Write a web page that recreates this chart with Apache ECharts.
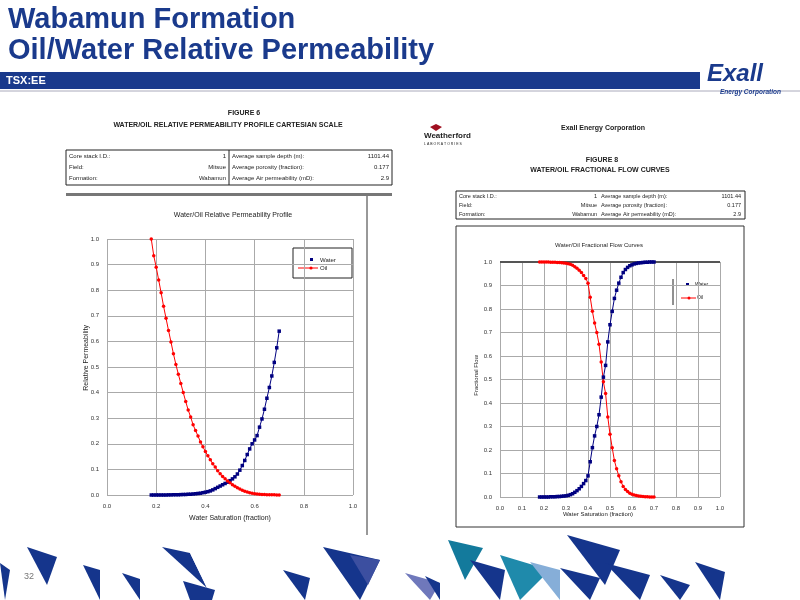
<!DOCTYPE html>
<html><head><meta charset="utf-8">
<script src="https://cdn.jsdelivr.net/npm/echarts@6/dist/echarts.min.js"></script>
<style>html,body{margin:0;padding:0;background:#fff}#c{width:800px;height:600px}</style>
</head><body><div id="c"></div>
<script>
const sw=[0.18,0.19,0.20,0.21,0.22,0.23,0.24,0.25,0.26,0.27,0.28,0.29,0.30,0.31,0.32,0.33,0.34,0.35,0.36,0.37,0.38,0.39,0.40,0.41,0.42,0.43,0.44,0.45,0.46,0.47,0.48,0.49,0.50,0.51,0.52,0.53,0.54,0.55,0.56,0.57,0.58,0.59,0.60,0.61,0.62,0.63,0.64,0.65,0.66,0.67,0.68,0.69,0.70];
const krw=[0,0,0,0,0,0,0,0.0005,0.0005,0.001,0.001,0.001,0.0015,0.002,0.002,0.003,0.003,0.004,0.005,0.006,0.007,0.009,0.011,0.013,0.016,0.020,0.025,0.030,0.035,0.040,0.045,0.050,0.056,0.063,0.071,0.082,0.097,0.115,0.135,0.158,0.180,0.200,0.215,0.232,0.265,0.297,0.335,0.378,0.420,0.465,0.518,0.575,0.640];
const kro=[1.000,0.935,0.890,0.840,0.790,0.737,0.690,0.643,0.598,0.552,0.510,0.472,0.436,0.400,0.365,0.332,0.305,0.274,0.252,0.230,0.207,0.188,0.170,0.153,0.138,0.122,0.109,0.095,0.083,0.072,0.063,0.055,0.048,0.040,0.034,0.028,0.023,0.019,0.015,0.012,0.009,0.007,0.005,0.004,0.003,0.002,0.002,0.001,0.001,0.001,0.0005,0.0003,0.0002];
const fw=[0,0,0,0,0,0.001,0.001,0.001,0.002,0.002,0.003,0.004,0.005,0.007,0.010,0.014,0.020,0.027,0.035,0.045,0.057,0.070,0.090,0.150,0.210,0.260,0.300,0.350,0.425,0.510,0.560,0.660,0.733,0.790,0.845,0.880,0.910,0.935,0.955,0.968,0.977,0.984,0.988,0.992,0.994,0.996,0.997,0.998,0.999,0.999,1,1,1];
const fo=[1,1,1,1,1,0.999,0.999,0.999,0.998,0.998,0.997,0.996,0.995,0.993,0.990,0.986,0.980,0.973,0.965,0.955,0.943,0.930,0.910,0.850,0.790,0.740,0.700,0.650,0.575,0.490,0.440,0.340,0.267,0.210,0.155,0.120,0.090,0.065,0.045,0.032,0.023,0.016,0.012,0.008,0.006,0.004,0.003,0.002,0.001,0.001,0,0,0];
const seriesNames=['Water','Oil'];
const pair=(a)=>sw.map((x,i)=>[x,a[i]]);
const ch=echarts.init(document.getElementById('c'));
const lab={fontSize:6,color:'#333',fontFamily:'Liberation Sans'};
const gl={show:true,lineStyle:{color:'#aaa',width:1}};
function txt(x,y,t,o){return {type:'text',style:Object.assign({x:x,y:y,text:t,fontSize:6,fill:'#222',fontFamily:'Liberation Sans',verticalAlign:'top'},o||{})};}
function tri(pts,c){return {type:'polygon',shape:{points:pts},style:{fill:c}};}
const B='#15358c';
const g=[
 txt(8,4,'Wabamun Formation\nOil/Water Relative Permeability',{fontSize:29,fontWeight:'bold',fill:'#1a3a8c',lineHeight:31}),
 {type:'rect',shape:{x:0,y:72,width:700,height:17},style:{fill:'#1a3a8c'}},
 {type:'line',shape:{x1:0,y1:91,x2:800,y2:91},style:{stroke:'#aab',lineWidth:1}},
 txt(6,75,'TSX:EE',{fontSize:11,fontWeight:'bold',fill:'#fff'}),
 txt(707,62,'Exall',{fontSize:24,fontWeight:'bold',fontStyle:'italic',fill:'#1a3a8c'}),
 txt(720,89,'Energy Corporation',{fontSize:6.5,fontWeight:'bold',fontStyle:'italic',fill:'#1a3a8c'}),
 txt(244,110,'FIGURE 6',{fontSize:7,fontWeight:'bold',align:'center'}),
 txt(228,122,'WATER/OIL RELATIVE PERMEABILITY PROFILE CARTESIAN SCALE',{fontSize:7,fontWeight:'bold',align:'center'}),
 {type:'rect',shape:{x:66,y:150,width:326,height:35},style:{fill:'none',stroke:'#222',lineWidth:1}},
 {type:'line',shape:{x1:229,y1:150,x2:229,y2:185},style:{stroke:'#222'}},
 txt(69,153,'Core stack I.D.:'),txt(69,164,'Field:'),txt(69,175,'Formation:'),
 txt(226,153,'1',{align:'right'}),txt(226,164,'Mitsue',{align:'right'}),txt(226,175,'Wabamun',{align:'right'}),
 txt(232,153,'Average sample depth (m):'),txt(232,164,'Average porosity (fraction):'),txt(232,175,'Average Air permeability (mD):'),
 txt(389,153,'1101.44',{align:'right'}),txt(389,164,'0.177',{align:'right'}),txt(389,175,'2.9',{align:'right'}),
 {type:'rect',shape:{x:66,y:193,width:326,height:3},style:{fill:'#777'}},
 {type:'line',shape:{x1:367,y1:196,x2:367,y2:535},style:{stroke:'#333'}},
 txt(233,212,'Water/Oil Relative Permeability Profile',{fontSize:7,align:'center'}),
 txt(230,515,'Water Saturation (fraction)',{fontSize:7,align:'center'}),
 {type:'text',left:83,top:325,rotation:Math.PI/2,style:{text:'Relative Permeability',fontSize:7,fill:'#222'}},
 {type:'rect',shape:{x:293,y:248,width:59,height:30},style:{fill:'#fff',stroke:'#222',lineWidth:1}},
 {type:'rect',shape:{x:310,y:258,width:3,height:3},style:{fill:'#000080'}},txt(320,257,'Water'),
 {type:'line',shape:{x1:298,y1:268,x2:318,y2:268},style:{stroke:'#f00'}},{type:'circle',shape:{cx:311,cy:268,r:1.6},style:{fill:'#f00'}},txt(320,265,'Oil'),
 {type:'polygon',shape:{points:[[430,127],[436,124],[442,127],[436,131]]},style:{fill:'#a01020'}},
 txt(424,132,'Weatherford',{fontSize:8,fontWeight:'bold',fill:'#222'}),txt(424,142,'L A B O R A T O R I E S',{fontSize:3.5}),
 txt(603,125,'Exall Energy Corporation',{fontSize:7,fontWeight:'bold',align:'center'}),
 txt(602,157,'FIGURE 8',{fontSize:7,fontWeight:'bold',align:'center'}),
 txt(600,167,'WATER/OIL FRACTIONAL FLOW CURVES',{fontSize:7,fontWeight:'bold',align:'center'}),
 {type:'rect',shape:{x:456,y:191,width:289,height:28},style:{fill:'none',stroke:'#222',lineWidth:1}},
 txt(459,193,'Core stack I.D.:',{fontSize:5.5}),txt(459,202,'Field:',{fontSize:5.5}),txt(459,211,'Formation:',{fontSize:5.5}),
 txt(597,193,'1',{align:'right',fontSize:5.5}),txt(597,202,'Mitsue',{align:'right',fontSize:5.5}),txt(597,211,'Wabamun',{align:'right',fontSize:5.5}),
 txt(601,193,'Average sample depth (m):',{fontSize:5.5}),txt(601,202,'Average porosity (fraction):',{fontSize:5.5}),txt(601,211,'Average Air permeability (mD):',{fontSize:5.5}),
 txt(741,193,'1101.44',{align:'right',fontSize:5.5}),txt(741,202,'0.177',{align:'right',fontSize:5.5}),txt(741,211,'2.9',{align:'right',fontSize:5.5}),
 {type:'rect',shape:{x:456,y:226,width:288,height:301},style:{fill:'none',stroke:'#333',lineWidth:1}},
 txt(599,242,'Water/Oil Fractional Flow Curves',{fontSize:6,align:'center'}),
 txt(598,511,'Water Saturation (fraction)',{fontSize:6,align:'center'}),
 {type:'text',left:473,top:355,rotation:Math.PI/2,style:{text:'Fractional Flow',fontSize:6,fill:'#222'}},
 {type:'rect',shape:{x:673,y:275,width:66,height:30},style:{fill:'#fff'}},
 {type:'line',shape:{x1:673,y1:279,x2:673,y2:305},style:{stroke:'#222'}},
 {type:'rect',shape:{x:686,y:283,width:3,height:3},style:{fill:'#000080'}},txt(695,282,'Water',{fontSize:5}),
 {type:'line',shape:{x1:681,y1:298,x2:696,y2:298},style:{stroke:'#f00'}},{type:'circle',shape:{cx:689,cy:298,r:1.5},style:{fill:'#f00'}},txt(697,295,'Oil',{fontSize:5}),
 txt(24,572,'32',{fontSize:9,fill:'#777'}),
 tri([[27,547],[57,557],[47,585]],B),tri([[0,563],[10,570],[5,600]],B),
 tri([[83,565],[100,570],[100,600]],B),tri([[122,573],[140,579],[140,600]],B),
 tri([[162,547],[190,553],[207,588]],B),tri([[190,553],[210,558],[207,588]],'#fff'),
 tri([[183,581],[215,590],[212,600],[190,600]],B),
 tri([[283,570],[310,578],[305,600]],B),
 tri([[323,547],[380,560],[360,600]],B),tri([[350,555],[380,560],[368,585]],'#3c4fa0'),
 tri([[405,573],[440,583],[430,600]],'#6f78bb'),tri([[425,576],[440,583],[440,600]],B),
 tri([[448,540],[483,548],[465,580]],'#137a9c'),tri([[470,560],[505,570],[500,600]],B),
 tri([[500,555],[550,570],[520,600]],'#1f8aab'),tri([[530,562],[560,570],[560,600]],'#86aed8'),
 tri([[567,535],[620,550],[605,585]],B),tri([[560,568],[600,578],[590,600]],B),
 tri([[605,563],[650,575],[640,600]],B),tri([[660,575],[690,585],[680,600]],B),
 tri([[695,562],[725,572],[720,600]],B)
];
const sym={water:{type:'line',symbol:'rect',symbolSize:3.5,itemStyle:{color:'#000080'},lineStyle:{color:'#000080',width:1}},
 oil:{type:'line',symbol:'circle',symbolSize:3.5,itemStyle:{color:'#ff0000'},lineStyle:{color:'#ff0000',width:1}}};
ch.setOption({
 animation:false,
 graphic:g,
 grid:[{left:107,top:239,width:246,height:256},{left:500,top:262,width:220,height:235}],
 xAxis:[{gridIndex:0,type:'value',min:0,max:1,interval:0.2,axisLine:{show:false},axisTick:{show:false},splitLine:gl,axisLabel:Object.assign({formatter:v=>v.toFixed(1)},lab)},
        {gridIndex:1,type:'value',min:0,max:1,interval:0.1,axisLine:{show:false},axisTick:{show:false},splitLine:gl,axisLabel:Object.assign({formatter:v=>v.toFixed(1),fontSize:5},lab)}],
 yAxis:[{gridIndex:0,type:'value',min:0,max:1,interval:0.1,axisLine:{show:false},axisTick:{show:false},splitLine:gl,axisLabel:Object.assign({formatter:v=>v.toFixed(1)},lab)},
        {gridIndex:1,type:'value',min:0,max:1,interval:0.1,axisLine:{show:false},axisTick:{show:false},splitLine:gl,axisLabel:Object.assign({formatter:v=>v.toFixed(1),fontSize:5},lab)}],
 series:[
  Object.assign({name:seriesNames[0],xAxisIndex:0,yAxisIndex:0,data:pair(krw),z:3},sym.water),
  Object.assign({name:seriesNames[1],xAxisIndex:0,yAxisIndex:0,data:pair(kro),z:3},sym.oil),
  Object.assign({name:seriesNames[0],xAxisIndex:1,yAxisIndex:1,data:pair(fw),z:3},sym.water),
  Object.assign({name:seriesNames[1],xAxisIndex:1,yAxisIndex:1,data:pair(fo),z:3},sym.oil),
  {type:'line',xAxisIndex:1,yAxisIndex:1,data:[[0,1],[1,1]],symbol:'none',lineStyle:{color:'#555',width:2},z:2,silent:true}
 ]
});
</script></body></html>
